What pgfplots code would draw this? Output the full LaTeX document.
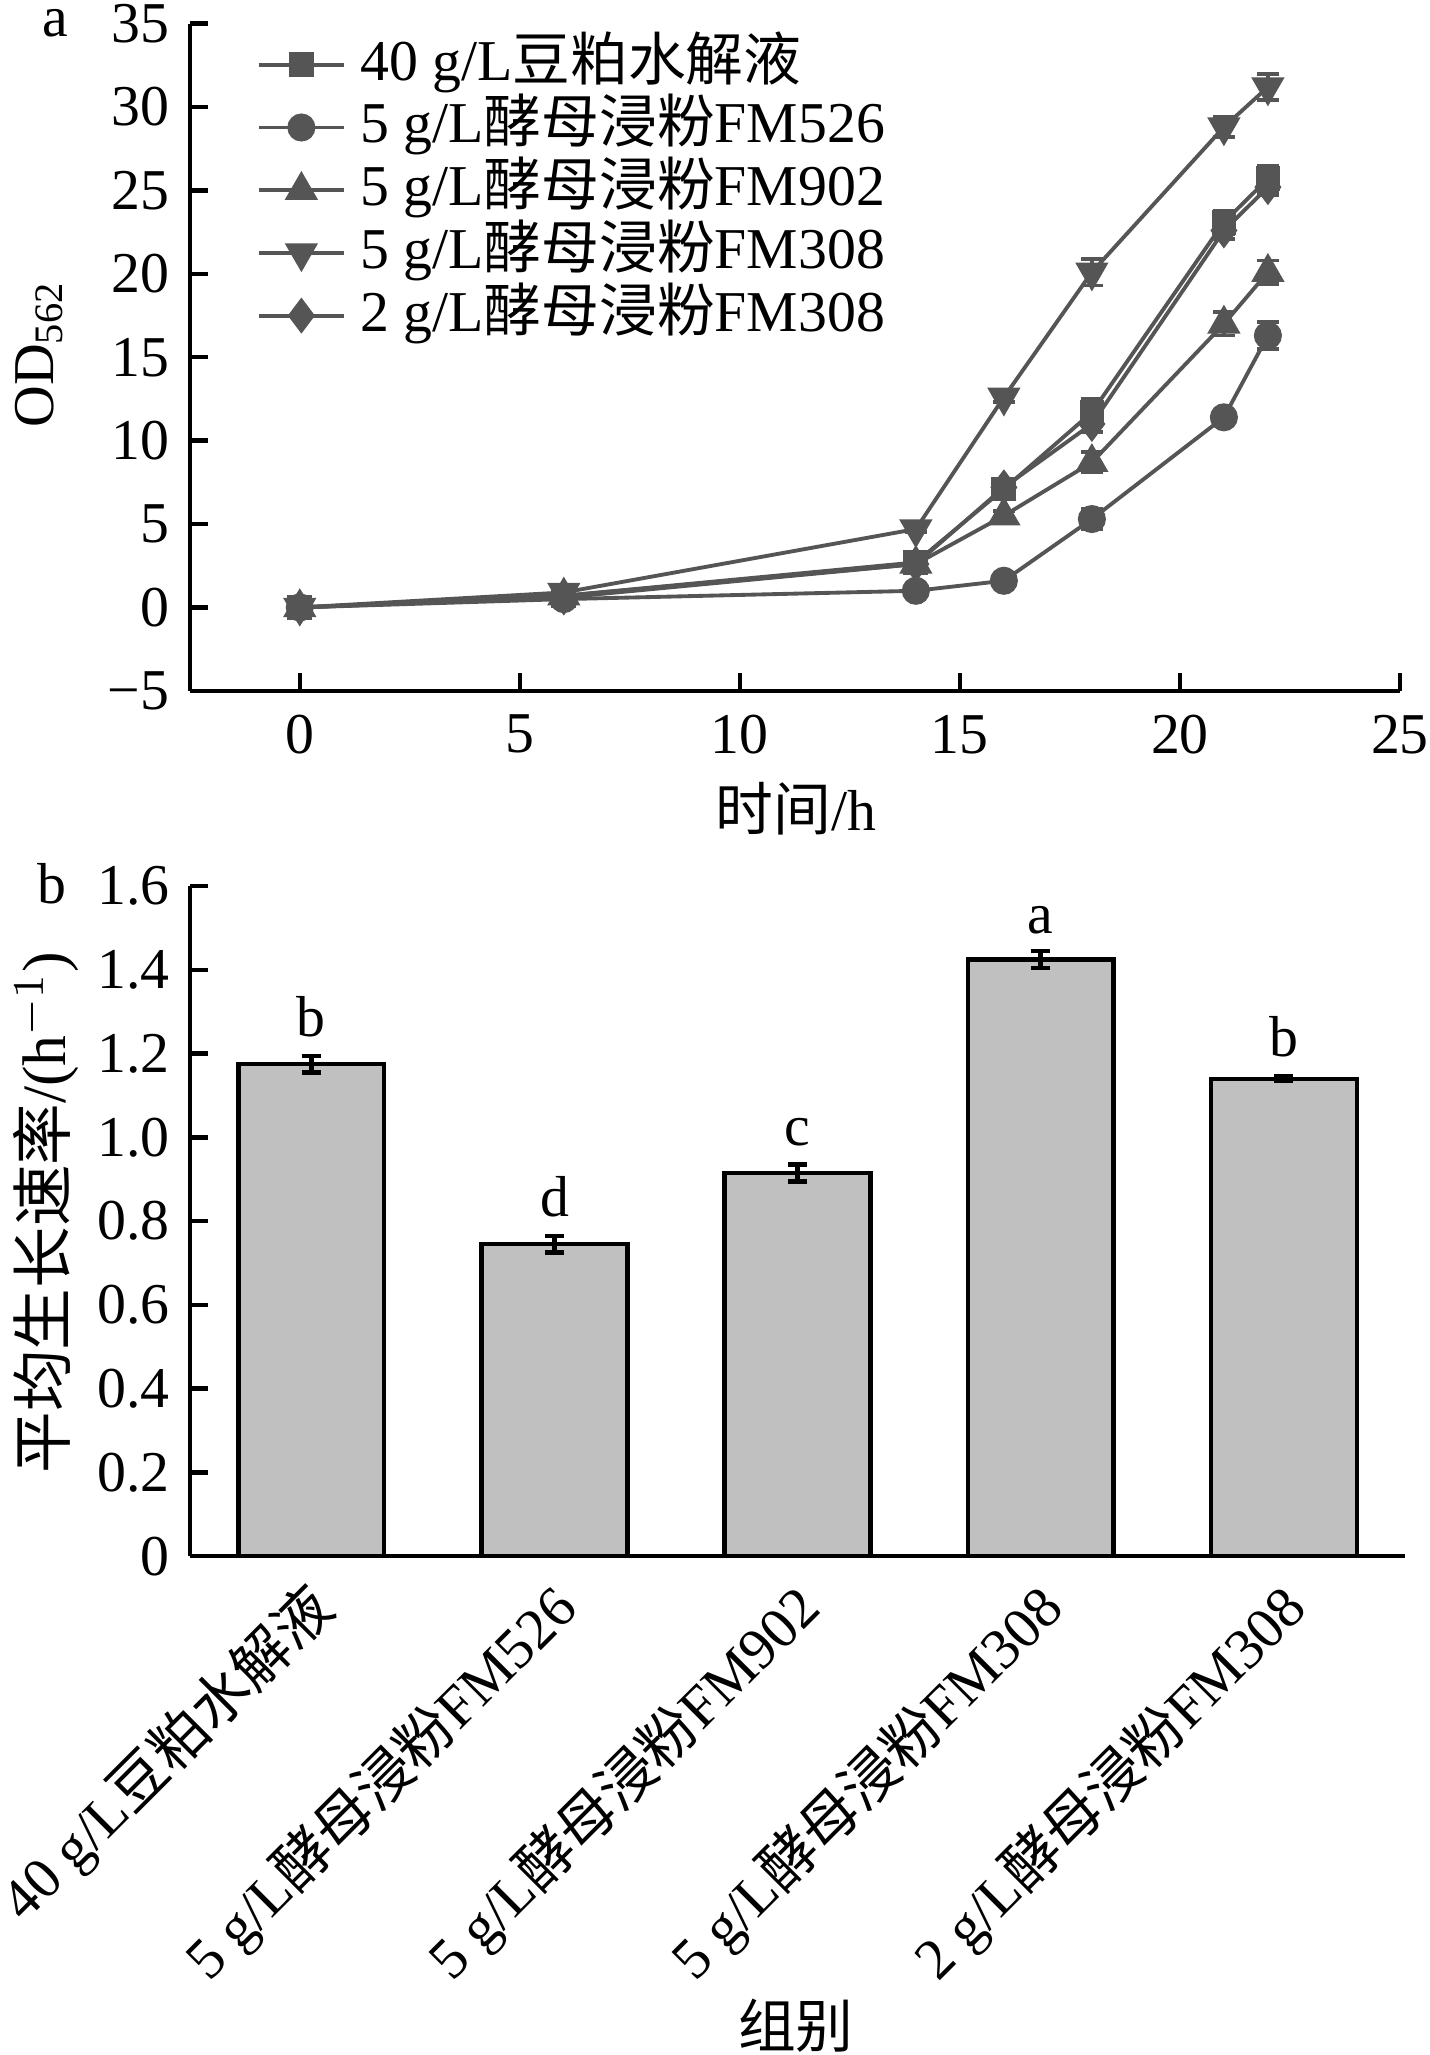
\documentclass[border=0pt]{standalone}
\usepackage{fontspec}
\setmainfont{Liberation Serif}
\newfontfamily\cjk{Noto Sans CJK SC}
\usepackage{pgfplots}
\usepackage{pgfplotstable}
\pgfplotsset{compat=1.18}
\definecolor{lc}{HTML}{555555}
\definecolor{barfill}{HTML}{C0C0C0}

\pgfplotstableread{
x y e
0 0.0 0.05
6 0.7 0.1
14 2.7 0.2
16 7.1 0.3
18 11.7 0.8
21 23.1 0.7
22 25.7 0.8
}\sA
\pgfplotstableread{
x y e
0 0.0 0.05
6 0.5 0.1
14 1.0 0.1
16 1.6 0.2
18 5.3 0.6
21 11.4 0.4
22 16.3 0.8
}\sB
\pgfplotstableread{
x y e
0 0.0 0.05
6 0.7 0.1
14 2.6 0.2
16 5.5 0.3
18 8.7 0.6
21 17.0 0.7
22 20.1 0.7
}\sC
\pgfplotstableread{
x y e
0 0.0 0.05
6 0.9 0.1
14 4.7 0.2
16 12.6 0.3
18 20.1 0.8
21 28.8 0.6
22 31.2 0.8
}\sD
\pgfplotstableread{
x y e
0 0.0 0.05
6 0.6 0.1
14 2.6 0.2
16 7.2 0.3
18 11.0 0.5
21 22.6 0.5
22 25.2 0.5
}\sE
\pgfplotstableread{
x y e
0 1.175 0.020
1 0.745 0.020
2 0.915 0.020
3 1.425 0.020
4 1.140 0.005
}\bars

\begin{document}
\fontsize{10.5}{12.6}\selectfont%
\begin{tikzpicture}
\pgfplotsset{
  myaxis/.style={
    scale only axis,
    axis x line*=bottom, axis y line*=left,
    axis line style={-, line width=0.8pt, black},
    tick style={line width=0.8pt, black},
    major tick length=3.3pt,
    tick align=inside,
    /pgf/number format/assume math mode=true,
    ticklabel style={black, font=\fontsize{10.5}{12.6}\selectfont},
  },
  lstyle/.style={color=lc, line width=0.7pt, mark options={solid, fill=lc, draw=lc},
    error bars/.cd, y dir=both, y explicit,
    error bar style={color=lc, line width=0.7pt},
    error mark options={rotate=90, mark size=2pt, line width=0.7pt, color=lc},
    /pgfplots/.cd},
}
% ---------- panel a ----------
\begin{axis}[myaxis,
  at={(34.5pt,-125.6pt)}, anchor=south west,
  width=220pt, height=121.3pt,
  xmin=-2.5, xmax=25, ymin=-5, ymax=35,
  xtick={0,5,10,15,20,25},
  ytick={-5,0,5,10,15,20,25,30,35},
  yticklabels={−5,0,5,10,15,20,25,30,35},
  xticklabel style={yshift=-0.7pt},
  legend style={at={(0.0545,0.987)}, anchor=north west, draw=none, fill=none,
    inner sep=0pt, row sep=0pt, cells={anchor=west},
    nodes={inner xsep=2.6pt, inner ysep=0.5pt, text height=8pt, text depth=2.4pt,
      font=\fontsize{10.5}{12.6}\selectfont}},
  legend image code/.code={\draw[mark repeat=2,mark phase=2,#1]
    plot coordinates {(0pt,0pt) (7.75pt,0pt) (15.5pt,0pt)};},
]
\addplot[lstyle, mark=square*, mark size=1.9pt] table[x=x,y=y,y error=e]{\sA};
\addlegendentry{40 g/L{\cjk 豆粕水解液}}
\addplot[lstyle, mark=*, mark size=2.2pt] table[x=x,y=y,y error=e]{\sB};
\addlegendentry{5 g/L{\cjk 酵母浸粉}FM526}
\addplot[lstyle, mark=triangle*, mark size=2.8pt] table[x=x,y=y,y error=e]{\sC};
\addlegendentry{5 g/L{\cjk 酵母浸粉}FM902}
\addplot[lstyle, mark=triangle*, mark size=2.8pt, mark options={solid, fill=lc, draw=lc, rotate=180}] table[x=x,y=y,y error=e]{\sD};
\addlegendentry{5 g/L{\cjk 酵母浸粉}FM308}
\addplot[lstyle, mark=diamond*, mark size=2.7pt] table[x=x,y=y,y error=e]{\sE};
\addlegendentry{2 g/L{\cjk 酵母浸粉}FM308}
\end{axis}
% ---------- panel b ----------
\begin{axis}[myaxis,
  at={(34.5pt,-282.9pt)}, anchor=south west,
  width=221pt, height=121.8pt,
  xmin=-0.5, xmax=4.5, ymin=0, ymax=1.6,
  xtick={0,1,2,3,4},
  xtick style={draw=none},
  xticklabels={40 g/L{\cjk 豆粕水解液},5 g/L{\cjk 酵母浸粉}FM526,5 g/L{\cjk 酵母浸粉}FM902,5 g/L{\cjk 酵母浸粉}FM308,2 g/L{\cjk 酵母浸粉}FM308},
  xticklabel style={xshift=-1.6pt, yshift=-3.5pt, rotate=45, anchor=north east, inner sep=0pt},
  ytick={0,0.2,0.4,0.6,0.8,1.0,1.2,1.4,1.6},
  yticklabels={0,0.2,0.4,0.6,0.8,1.0,1.2,1.4,1.6},
]
\addplot[ybar, bar width=0.6, fill=barfill, draw=black, line width=0.8pt,
  error bars/.cd, y dir=both, y explicit,
  error bar style={black, line width=0.8pt},
  error mark options={rotate=90, mark size=1.75pt, line width=0.8pt, black}]
  table[x=x,y=y,y error=e]{\bars};
\node[anchor=base] at (axis cs:0,1.240) {b};
\node[anchor=base] at (axis cs:1,0.810) {d};
\node[anchor=base] at (axis cs:2,0.980) {c};
\node[anchor=base] at (axis cs:3,1.487) {a};
\node[anchor=base] at (axis cs:4,1.192) {b};
\end{axis}
% ---------- labels ----------
\node[anchor=base] at (10pt,-6.7pt) {a};
\node[anchor=base] at (9.5pt,-164.2pt) {b};
\node[rotate=90] at (7.1pt,-64.4pt) {OD\textsubscript{562}};
\node[rotate=90, font=\fontsize{11.2}{13}\selectfont] at (8.3pt,-220.5pt) {{\cjk 平均生长速率}/(h$^{-1}$)};
\node at (144.7pt,-147pt) {{\cjk 时间}/h};
\node at (144.7pt,-368.2pt) {{\cjk 组别}};
\pgfresetboundingbox
\path[use as bounding box] (0,0) rectangle (259.8pt,-373.6pt);
\end{tikzpicture}
\end{document}
